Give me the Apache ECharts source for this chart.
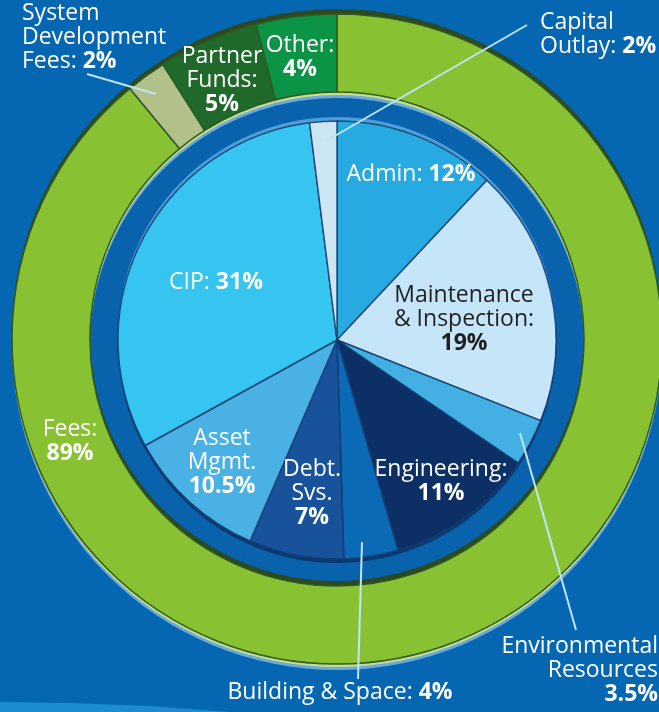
<!DOCTYPE html>
<html>
<head>
<meta charset="utf-8">
<script src="https://cdn.jsdelivr.net/npm/echarts@6/dist/echarts.min.js"></script>
<style>
html,body{margin:0;padding:0;background:#0567b1;}
#c{width:659px;height:712px;}
</style>
</head>
<body>
<div id="c"></div>
<script>
// ---- data ----
const innerNames = ['Admin', 'Maintenance & Inspection', 'Environmental Resources', 'Engineering',
  'Building & Space', 'Debt. Svs.', 'Asset Mgmt.', 'CIP', 'Capital Outlay'];
const innerValues = [12, 19, 3.5, 11, 4, 7, 10.5, 31, 2];
const innerLabelText = ['Admin: #', 'Maintenance\n& Inspection:\n#', 'Environmental\nResources\n#',
  'Engineering:\n#', 'Building & Space: #', 'Debt.\nSvs.\n#', 'Asset\nMgmt.\n#', 'CIP: #', 'Capital\nOutlay: #'];

const outerNames = ['Fees', 'System Development Fees', 'Partner Funds', 'Other'];
const outerValues = [89, 2, 5, 4];
const outerLabelText = ['Fees:\n#', 'System\nDevelopment\nFees: #', 'Partner\nFunds:\n#', 'Other:\n#'];

// ---- styles ----
const innerColors = ['#27a9e1', '#c4e6f8', '#43afe3', '#0c2f66', '#0a6ab5', '#17529a', '#49b1e4', '#36c4f1', '#cde6f3'];
const outerColors = ['#88c232', '#b2c08a', '#1f6a2a', '#0b9346'];
const darkText = [false, true, false, false, false, false, false, false, false];

const FONT = '"Open Sans", sans-serif';
const FS = 23, LH = 24;

const innerSpots = [
  [411, 174, 'center'], [464, 319, 'center'], [658, 670, 'right'], [441, 481, 'center'],
  [340, 692, 'center'], [312, 493, 'center'], [222, 462, 'center'], [216, 282, 'center'], [540, 34, 'left']
];
const outerSpots = [[70, 441, 'center'], [22, 37, 'left'], [222, 80, 'center'], [300, 57, 'center']];
// leader lines (decoration)
const leaders = [
  [520, 433, 576, 630],
  [362, 542, 358, 679],
  [326, 141, 527, 25],
  [156, 94, 87, 74]
];

function fmt(text, value, dark) {
  const n = dark ? 'dn' : 'n', b = dark ? 'db' : 'b';
  return text.split('\n').map(function (line) {
    const i = line.indexOf('#');
    if (i < 0) return '{' + n + '|' + line + '}';
    const pre = line.slice(0, i);
    return (pre ? '{' + n + '|' + pre + '}' : '') + '{' + b + '|' + value + '%}';
  }).join('\n');
}

const rich = {
  n: { fontFamily: FONT, fontSize: FS, lineHeight: LH, color: '#ffffff' },
  b: { fontFamily: FONT, fontSize: FS, lineHeight: LH, color: '#ffffff', fontWeight: 'bold' },
  dn: { fontFamily: FONT, fontSize: FS, lineHeight: LH, color: '#231f20' },
  db: { fontFamily: FONT, fontSize: FS, lineHeight: LH, color: '#231f20', fontWeight: 'bold' }
};

const CX = 337, CY = 340;
const R_IN = 219, R_G0 = 247, R_G1 = 325;

function plain(values, center, radius, color, z) {
  return {
    type: 'pie', silent: true, center: center, radius: radius, startAngle: 90,
    label: { show: false }, labelLine: { show: false }, emphasis: { disabled: true },
    itemStyle: { color: color }, z: z,
    data: values.map(function (v) { return { value: v }; })
  };
}

const innerData = innerValues.map(function (v, i) {
  return {
    name: innerNames[i], value: v,
    itemStyle: { color: innerColors[i] },
    label: { formatter: fmt(innerLabelText[i], v, darkText[i]) }
  };
});
const outerData = outerValues.map(function (v, i) {
  return {
    name: outerNames[i], value: v,
    itemStyle: { color: outerColors[i] },
    label: { formatter: fmt(outerLabelText[i], v, false) }
  };
});

function layoutBy(spots) {
  return function (p) {
    const s = spots[p.dataIndex];
    return { x: s[0], y: s[1], align: s[2], verticalAlign: 'middle' };
  };
}

const chart = echarts.init(document.getElementById('c'), null, { renderer: 'canvas' });
chart.setOption({
  backgroundColor: '#0567b1',
  animation: false,
  graphic: [
    {
      type: 'polygon', z: 0, silent: true,
      shape: { points: [[0, 702], [70, 703], [150, 706], [230, 712], [0, 712]] },
      style: { fill: '#1c8bd1' }
    }
  ].concat(leaders.map(function (l) {
    return {
      type: 'line', z: 100, silent: true,
      shape: { x1: l[0], y1: l[1], x2: l[2], y2: l[3] },
      style: { stroke: '#bfe5f7', lineWidth: 2 }
    };
  })),
  series: [
    plain(innerValues, [CX, CY], [0, R_G0 + 1], '#0862ac', 1),
    plain(outerValues, [CX, CY + 5], [R_G0, R_G1], '#6ba8dc', 2),
    plain(outerValues, [CX, CY + 2], [R_G0, R_G1], '#c3df8c', 3),
    plain(outerValues, [CX, CY - 6], [R_G0, R_G1], '#2b4a22', 4),
    {
      type: 'pie', center: [CX, CY - 1], radius: [R_G0, R_G1], startAngle: 90, z: 5,
      avoidLabelOverlap: false, silent: true, emphasis: { disabled: true },
      itemStyle: { borderColor: '#2f5a22', borderWidth: 1.5 },
      label: { show: true, position: 'inside', rich: rich },
      labelLine: { show: false },
      labelLayout: layoutBy(outerSpots),
      data: outerData
    },
    plain(innerValues, [CX, CY - 4], [0, R_IN], '#4d9fdb', 6),
    plain(innerValues, [CX, CY + 4], [0, R_IN], '#0b3a72', 7),
    {
      type: 'pie', center: [CX, CY], radius: [0, R_IN], startAngle: 90, z: 8,
      avoidLabelOverlap: false, silent: true, emphasis: { disabled: true },
      itemStyle: { borderColor: 'rgba(20,60,110,0.85)', borderWidth: 1.5 },
      label: { show: true, position: 'inside', rich: rich },
      labelLine: { show: false },
      labelLayout: layoutBy(innerSpots),
      data: innerData
    }
  ]
});
</script>
</body>
</html>
